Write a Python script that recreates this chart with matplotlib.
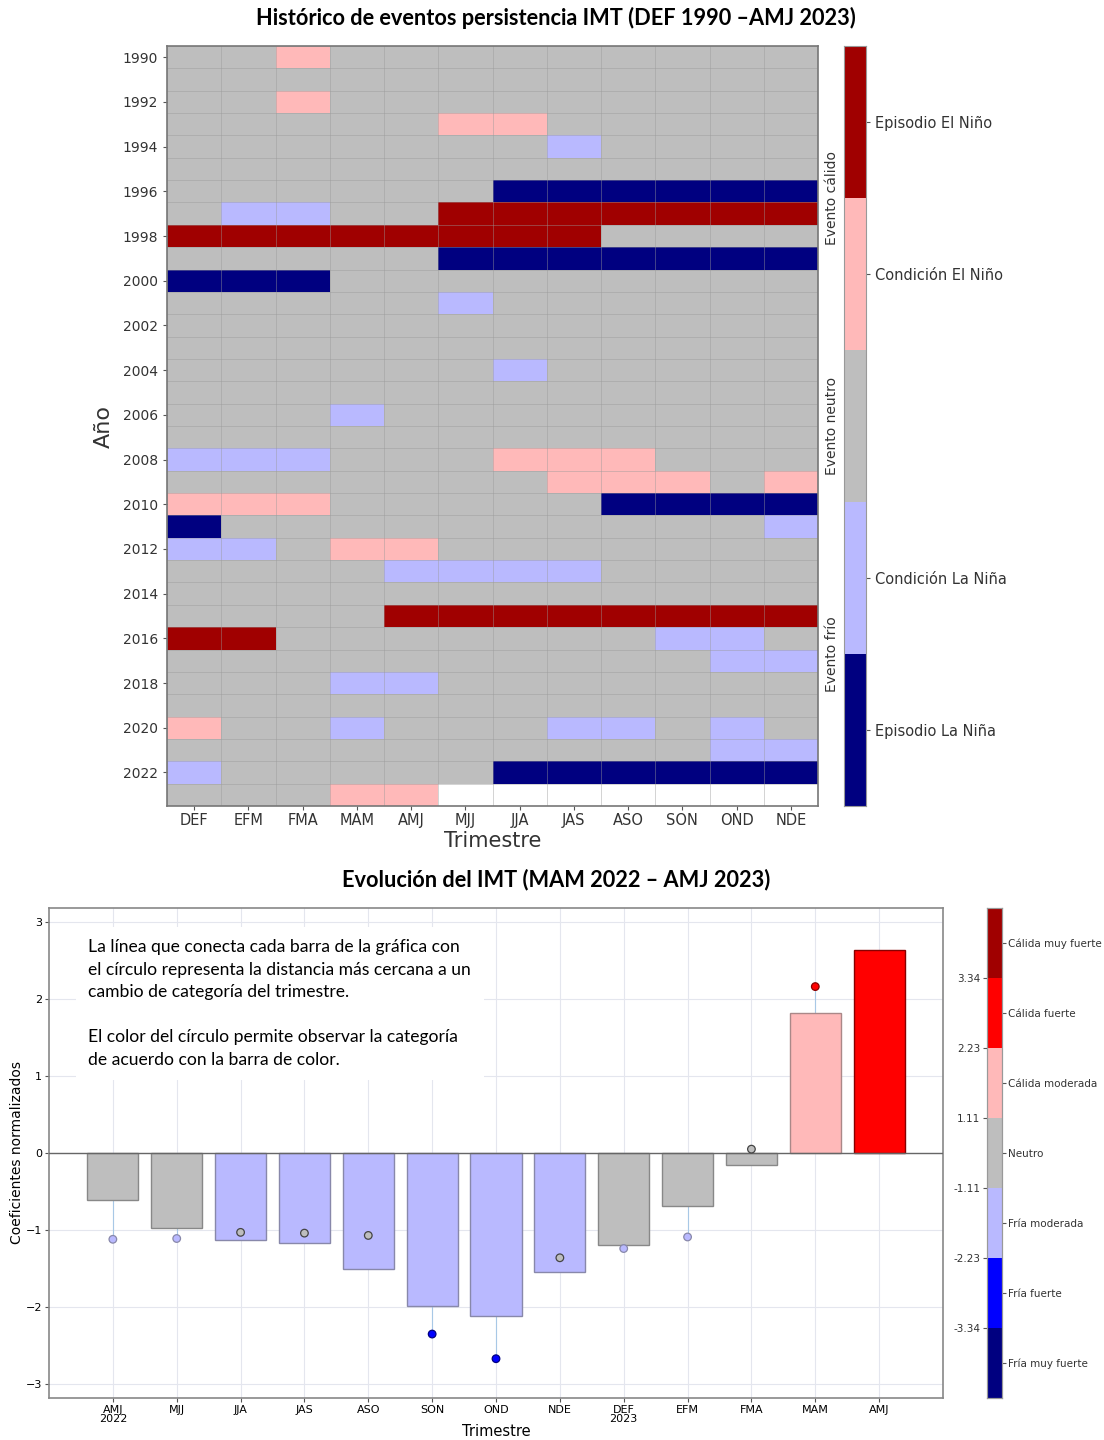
import numpy as np
import matplotlib
matplotlib.use("Agg")
import matplotlib.pyplot as plt
from matplotlib.colors import ListedColormap, BoundaryNorm

# --- datos: histórico de persistencia IMT (0 Episodio La Niña ... 4 Episodio El Niño)
trimestres = ['DEF', 'EFM', 'FMA', 'MAM', 'AMJ', 'MJJ', 'JJA', 'JAS', 'ASO', 'SON', 'OND', 'NDE']
anios = list(range(1990, 2024))
n = np.nan
persistencia = [
    [2, 2, 3, 2, 2, 2, 2, 2, 2, 2, 2, 2],  # 1990
    [2, 2, 2, 2, 2, 2, 2, 2, 2, 2, 2, 2],  # 1991
    [2, 2, 3, 2, 2, 2, 2, 2, 2, 2, 2, 2],  # 1992
    [2, 2, 2, 2, 2, 3, 3, 2, 2, 2, 2, 2],  # 1993
    [2, 2, 2, 2, 2, 2, 2, 1, 2, 2, 2, 2],  # 1994
    [2, 2, 2, 2, 2, 2, 2, 2, 2, 2, 2, 2],  # 1995
    [2, 2, 2, 2, 2, 2, 0, 0, 0, 0, 0, 0],  # 1996
    [2, 1, 1, 2, 2, 4, 4, 4, 4, 4, 4, 4],  # 1997
    [4, 4, 4, 4, 4, 4, 4, 4, 2, 2, 2, 2],  # 1998
    [2, 2, 2, 2, 2, 0, 0, 0, 0, 0, 0, 0],  # 1999
    [0, 0, 0, 2, 2, 2, 2, 2, 2, 2, 2, 2],  # 2000
    [2, 2, 2, 2, 2, 1, 2, 2, 2, 2, 2, 2],  # 2001
    [2, 2, 2, 2, 2, 2, 2, 2, 2, 2, 2, 2],  # 2002
    [2, 2, 2, 2, 2, 2, 2, 2, 2, 2, 2, 2],  # 2003
    [2, 2, 2, 2, 2, 2, 1, 2, 2, 2, 2, 2],  # 2004
    [2, 2, 2, 2, 2, 2, 2, 2, 2, 2, 2, 2],  # 2005
    [2, 2, 2, 1, 2, 2, 2, 2, 2, 2, 2, 2],  # 2006
    [2, 2, 2, 2, 2, 2, 2, 2, 2, 2, 2, 2],  # 2007
    [1, 1, 1, 2, 2, 2, 3, 3, 3, 2, 2, 2],  # 2008
    [2, 2, 2, 2, 2, 2, 2, 3, 3, 3, 2, 3],  # 2009
    [3, 3, 3, 2, 2, 2, 2, 2, 0, 0, 0, 0],  # 2010
    [0, 2, 2, 2, 2, 2, 2, 2, 2, 2, 2, 1],  # 2011
    [1, 1, 2, 3, 3, 2, 2, 2, 2, 2, 2, 2],  # 2012
    [2, 2, 2, 2, 1, 1, 1, 1, 2, 2, 2, 2],  # 2013
    [2, 2, 2, 2, 2, 2, 2, 2, 2, 2, 2, 2],  # 2014
    [2, 2, 2, 2, 4, 4, 4, 4, 4, 4, 4, 4],  # 2015
    [4, 4, 2, 2, 2, 2, 2, 2, 2, 1, 1, 2],  # 2016
    [2, 2, 2, 2, 2, 2, 2, 2, 2, 2, 1, 1],  # 2017
    [2, 2, 2, 1, 1, 2, 2, 2, 2, 2, 2, 2],  # 2018
    [2, 2, 2, 2, 2, 2, 2, 2, 2, 2, 2, 2],  # 2019
    [3, 2, 2, 1, 2, 2, 2, 1, 1, 2, 1, 2],  # 2020
    [2, 2, 2, 2, 2, 2, 2, 2, 2, 2, 1, 1],  # 2021
    [1, 2, 2, 2, 2, 2, 0, 0, 0, 0, 0, 0],  # 2022
    [2, 2, 2, 3, 3, n, n, n, n, n, n, n],  # 2023
]
colores_enso = ['#000080', '#b9b9ff', '#bebebe', '#ffb9b9', '#a00000']
etiquetas_enso = ['Episodio La Niña', 'Condición La Niña', '', 'Condición El Niño', 'Episodio El Niño']

# --- datos: evolución IMT MAM 2022 - AMJ 2023
trim_imt = ['AMJ\n2022', 'MJJ', 'JJA', 'JAS', 'ASO', 'SON', 'OND', 'NDE',
            'DEF\n2023', 'EFM', 'FMA', 'MAM', 'AMJ']
imt = [-0.61, -0.97, -1.13, -1.17, -1.50, -1.98, -2.12, -1.55, -1.20, -0.69, -0.15, 1.82, 2.63]
cambio = [-1.12, -1.11, -1.03, -1.04, -1.07, -2.35, -2.67, -1.36, -1.24, -1.09, 0.05, 2.16, n]
cat_barra = [3, 3, 2, 2, 2, 2, 2, 2, 3, 3, 3, 4, 5]
cat_punto = [2, 2, 3, 3, 3, 1, 1, 3, 2, 2, 3, 5, 3]
colores_imt = ['#000080', '#0000ff', '#b9b9ff', '#bebebe', '#ffb9b9', '#ff0000', '#a00000']
bordes_imt = ['#000040', '#000080', '#8888aa', '#888888', '#aa8888', '#880000', '#500000']
etiquetas_imt = ['Fría muy fuerte', 'Fría fuerte', 'Fría moderada', 'Neutro',
                 'Cálida moderada', 'Cálida fuerte', 'Cálida muy fuerte']
umbrales = ['-3.34', '-2.23', '-1.11', '1.11', '2.23', '3.34']

W, H = 1104, 1440


def px(x0, y0, x1, y1):
    return [x0 / W, 1 - y1 / H, (x1 - x0) / W, (y1 - y0) / H]


fig = plt.figure(figsize=(W / 100, H / 100), dpi=100)
titulo_font = ['Lato', 'DejaVu Sans']

# ---------------- heatmap ----------------
ax1 = fig.add_axes(px(167, 46, 818, 806))
cmap5 = ListedColormap(colores_enso)
norm5 = BoundaryNorm(np.arange(-0.5, 5.5, 1), 5)
datos = np.ma.masked_invalid(np.array(persistencia, dtype=float))
ax1.pcolormesh(np.arange(13), np.arange(len(anios) + 1), datos, cmap=cmap5, norm=norm5)
ax1.set_xlim(0, 12)
ax1.set_ylim(len(anios), 0)
ax1.set_xticks(np.arange(12) + 0.5)
ax1.set_xticklabels(trimestres, fontsize=10.5, color='#333333')
ax1.set_yticks(np.arange(0, len(anios), 2) + 0.5)
ax1.set_yticklabels([str(a) for a in anios[::2]], fontsize=10, color='#333333')
ax1.set_xticks(np.arange(13), minor=True)
ax1.set_yticks(np.arange(len(anios) + 1), minor=True)
ax1.grid(which='minor', color='#999999', lw=0.6, alpha=0.5)
ax1.tick_params(which='minor', length=0)
ax1.tick_params(which='major', length=3, color='#555555')
ax1.tick_params(axis='x', pad=2)
ax1.set_xlabel('Trimestre', fontsize=15, color='#333333', labelpad=2)
ax1.set_ylabel('Año', fontsize=16, color='#333333', labelpad=6)
for s in ax1.spines.values():
    s.set_color('#777777')
    s.set_linewidth(1.2)

cb1 = fig.add_axes(px(844, 46, 866, 806))
cb1.pcolormesh([0, 1], np.arange(6), np.arange(5).reshape(5, 1), cmap=cmap5, norm=norm5)
cb1.set_ylim(0, 5)
cb1.set_xticks([])
cb1.yaxis.tick_right()
ticks_cb1 = [i + 0.5 for i in range(5) if etiquetas_enso[i]]
cb1.set_yticks(ticks_cb1)
cb1.set_yticklabels([e for e in etiquetas_enso if e], fontsize=10.5, color='#333333')
cb1.tick_params(length=3, color='#555555')
for s in cb1.spines.values():
    s.set_color('#999999')
for yy, txt in [(4.0, 'Evento cálido'), (2.5, 'Evento neutro'), (1.0, 'Evento frío')]:
    cb1.text(-0.55, yy, txt, rotation=90, ha='center', va='center', fontsize=10,
             color='#333333', transform=cb1.get_yaxis_transform())

fig.text(556 / W, 1 - 18 / H, 'Histórico de eventos persistencia IMT (DEF 1990 –AMJ 2023)',
         ha='center', va='center', fontsize=15.7, fontweight='bold', family=titulo_font)

# ---------------- barras IMT ----------------
ax3 = fig.add_axes(px(49, 908, 943, 1398))
x = np.arange(len(imt))
ax3.set_axisbelow(True)
ax3.grid(color='#e4e6ee', lw=0.8)
ax3.bar(x, imt, width=0.8, color=[colores_imt[c] for c in cat_barra],
        edgecolor=[bordes_imt[c] for c in cat_barra], linewidth=1, zorder=2)
ax3.axhline(0, color='#666666', lw=1, zorder=3)
ok = ~np.isnan(cambio)
ax3.vlines(x[ok], np.array(imt)[ok], np.array(cambio)[ok], color='#a8c8e6', lw=0.8, zorder=1)
ax3.scatter(x[ok], np.array(cambio)[ok], s=30, zorder=4,
            c=[colores_imt[c] for i, c in enumerate(cat_punto) if ok[i]],
            edgecolors=[bordes_imt[c] if c != 3 else '#444444' for i, c in enumerate(cat_punto) if ok[i]],
            linewidths=0.9)
ax3.set_xlim(-1, 13)
ax3.set_ylim(-3.18, 3.18)
ax3.set_xticks(x)
ax3.set_xticklabels(trim_imt, fontsize=8, linespacing=0.85)
ax3.set_yticks([-3, -2, -1, 0, 1, 2, 3])
ax3.tick_params(labelsize=8, length=3, color='#555555')
ax3.tick_params(axis='x', pad=2)
ax3.tick_params(axis='y', pad=2)
ax3.set_xlabel('Trimestre', fontsize=10.5, labelpad=0)
ax3.set_ylabel('Coeficientes normalizados', fontsize=10, labelpad=1)
for s in ax3.spines.values():
    s.set_color('#888888')
    s.set_linewidth(1.2)

ax3.text(0.044, 0.936,
         'La línea que conecta cada barra de la gráfica con\n'
         'el círculo representa la distancia más cercana a un\n'
         'cambio de categoría del trimestre.\n\n'
         'El color del círculo permite observar la categoría\n'
         'de acuerdo con la barra de color.',
         transform=ax3.transAxes, ha='left', va='top', fontsize=12.6, linespacing=1.5,
         family=['Lato', 'DejaVu Sans'], zorder=5,
         bbox=dict(facecolor='white', edgecolor='none', pad=9))

cb2 = fig.add_axes(px(987, 908, 1002, 1398))
cmap7 = ListedColormap(colores_imt)
norm7 = BoundaryNorm(np.arange(-0.5, 7.5, 1), 7)
cb2.pcolormesh([0, 1], np.arange(8), np.arange(7).reshape(7, 1), cmap=cmap7, norm=norm7)
cb2.set_ylim(0, 7)
cb2.set_xticks([])
cb2.set_yticks(np.arange(1, 7))
cb2.set_yticklabels(umbrales, fontsize=7.5, color='#333333')
cb2.tick_params(length=3, color='#555555', pad=2)
cb2b = cb2.twinx()
cb2b.set_ylim(0, 7)
cb2b.set_yticks(np.arange(7) + 0.5)
cb2b.set_yticklabels(etiquetas_imt, fontsize=7.5, color='#333333')
cb2b.tick_params(length=3, color='#555555', pad=1.5)
for a in (cb2, cb2b):
    for s in a.spines.values():
        s.set_color('#999999')

fig.text(556 / W, 1 - 880 / H, 'Evolución del IMT (MAM 2022 – AMJ 2023)',
         ha='center', va='center', fontsize=15.7, fontweight='bold', family=titulo_font)

fig.savefig('out.png', dpi=100)
